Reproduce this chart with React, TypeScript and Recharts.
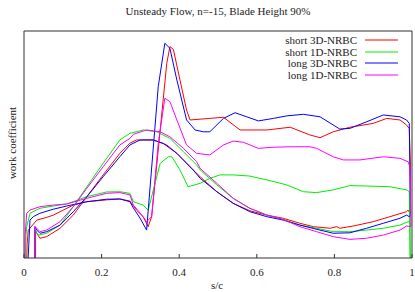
import { LineChart, Line, XAxis, YAxis } from 'recharts'

// s/c positions and work coefficient values, each closed loop traced around the blade
const short3dS = [0.003, 0.008, 0.011, 0.033, 0.0585, 0.0755, 0.101, 0.127, 0.162, 0.213, 0.247, 0.273, 0.29, 0.307, 0.32, 0.329, 0.351, 0.368, 0.376, 0.385, 0.402, 0.419, 0.428, 0.479, 0.514, 0.557, 0.626, 0.686, 0.737, 0.763, 0.797, 0.84, 0.9, 0.935, 0.969, 0.986, 0.993, 0.996, 0.995, 0.99, 0.986, 0.943, 0.9, 0.849, 0.814, 0.806, 0.789, 0.746, 0.711, 0.668, 0.626, 0.582, 0.539, 0.497, 0.454, 0.436, 0.394, 0.368, 0.333, 0.29, 0.273, 0.247, 0.204, 0.162, 0.127, 0.093, 0.0585, 0.041, 0.033, 0.03, 0.029]
const short3dW = [-0.3, 0.06, 0.123, 0.167, 0.179, 0.189, 0.211, 0.233, 0.248, 0.256, 0.26, 0.251, 0.211, 0.182, 0.138, 0.182, 0.564, 0.858, 0.931, 0.919, 0.784, 0.652, 0.608, 0.615, 0.62, 0.564, 0.564, 0.576, 0.542, 0.53, 0.556, 0.576, 0.593, 0.615, 0.608, 0.586, 0.57, 0.4, 0.197, 0.211, 0.204, 0.182, 0.16, 0.141, 0.131, 0.138, 0.131, 0.138, 0.153, 0.175, 0.189, 0.208, 0.241, 0.292, 0.358, 0.388, 0.461, 0.498, 0.52, 0.52, 0.506, 0.461, 0.366, 0.27, 0.189, 0.131, 0.094, 0.087, 0.109, 0.12, -0.3]

const short1dS = [0.002, 0.005, 0.007, 0.0155, 0.041, 0.0755, 0.11, 0.162, 0.213, 0.247, 0.273, 0.282, 0.307, 0.32, 0.351, 0.372, 0.381, 0.402, 0.423, 0.454, 0.479, 0.505, 0.539, 0.582, 0.626, 0.677, 0.72, 0.754, 0.797, 0.84, 0.883, 0.943, 0.986, 0.993, 0.997, 0.995, 0.99, 0.969, 0.926, 0.883, 0.84, 0.797, 0.754, 0.711, 0.668, 0.626, 0.582, 0.539, 0.497, 0.454, 0.445, 0.411, 0.376, 0.342, 0.307, 0.273, 0.247, 0.204, 0.162, 0.127, 0.093, 0.0585, 0.037, 0.028, 0.027]
const short1dW = [-0.3, 0.1, 0.138, 0.197, 0.219, 0.229, 0.238, 0.27, 0.291, 0.292, 0.285, 0.248, 0.233, 0.211, 0.417, 0.446, 0.446, 0.388, 0.314, 0.329, 0.351, 0.366, 0.366, 0.361, 0.344, 0.322, 0.292, 0.288, 0.3, 0.319, 0.317, 0.314, 0.3, 0.292, -0.3, 0.16, 0.16, 0.145, 0.131, 0.123, 0.116, 0.116, 0.131, 0.145, 0.17, 0.189, 0.219, 0.263, 0.322, 0.388, 0.41, 0.468, 0.527, 0.556, 0.564, 0.549, 0.52, 0.417, 0.314, 0.226, 0.145, 0.109, 0.101, 0.123, -0.3]

const long3dS = [0.002, 0.0155, 0.024, 0.041, 0.0755, 0.11, 0.162, 0.213, 0.247, 0.273, 0.282, 0.299, 0.316, 0.346, 0.363, 0.376, 0.394, 0.419, 0.441, 0.462, 0.479, 0.514, 0.544, 0.574, 0.604, 0.643, 0.677, 0.72, 0.763, 0.814, 0.84, 0.883, 0.926, 0.969, 0.986, 0.993, 0.996, 0.993, 0.986, 0.969, 0.926, 0.883, 0.84, 0.797, 0.763, 0.711, 0.668, 0.626, 0.582, 0.539, 0.497, 0.454, 0.436, 0.394, 0.359, 0.333, 0.299, 0.273, 0.247, 0.204, 0.162, 0.127, 0.093, 0.0585, 0.041, 0.033, 0.028, 0.027]
const long3dW = [-0.3, 0.167, 0.182, 0.197, 0.215, 0.229, 0.248, 0.259, 0.26, 0.248, 0.22, 0.176, 0.123, 0.755, 0.946, 0.924, 0.784, 0.608, 0.564, 0.556, 0.556, 0.615, 0.64, 0.622, 0.604, 0.615, 0.626, 0.633, 0.622, 0.568, 0.571, 0.6, 0.63, 0.622, 0.608, 0.593, 0.19, 0.182, 0.189, 0.175, 0.153, 0.131, 0.111, 0.109, 0.123, 0.145, 0.167, 0.182, 0.204, 0.241, 0.292, 0.351, 0.388, 0.461, 0.505, 0.52, 0.52, 0.498, 0.446, 0.358, 0.27, 0.204, 0.145, 0.116, 0.109, 0.123, 0.138, -0.3]

const long1dS = [0.001, 0.003, 0.007, 0.0155, 0.041, 0.0755, 0.11, 0.162, 0.213, 0.247, 0.273, 0.282, 0.307, 0.316, 0.329, 0.346, 0.363, 0.376, 0.394, 0.419, 0.445, 0.479, 0.514, 0.539, 0.565, 0.604, 0.643, 0.686, 0.737, 0.754, 0.797, 0.823, 0.866, 0.926, 0.969, 0.99, 0.995, 0.997, 0.995, 0.986, 0.969, 0.926, 0.883, 0.84, 0.797, 0.754, 0.711, 0.668, 0.626, 0.582, 0.539, 0.497, 0.454, 0.445, 0.411, 0.376, 0.351, 0.316, 0.282, 0.273, 0.247, 0.204, 0.162, 0.127, 0.093, 0.0585, 0.041, 0.033, 0.028, 0.027]
const long1dW = [-0.3, 0.1, 0.197, 0.211, 0.226, 0.233, 0.238, 0.263, 0.285, 0.288, 0.278, 0.233, 0.182, 0.16, 0.182, 0.505, 0.704, 0.689, 0.608, 0.498, 0.461, 0.454, 0.498, 0.515, 0.51, 0.483, 0.488, 0.49, 0.49, 0.483, 0.446, 0.432, 0.432, 0.446, 0.439, 0.424, 0.4, 0.14, 0.138, 0.141, 0.123, 0.101, 0.087, 0.082, 0.094, 0.116, 0.138, 0.17, 0.189, 0.219, 0.263, 0.329, 0.395, 0.424, 0.483, 0.534, 0.556, 0.564, 0.545, 0.527, 0.498, 0.402, 0.307, 0.226, 0.16, 0.123, 0.116, 0.131, 0.138, -0.3]

const xTicks = [0, 0.2, 0.4, 0.6, 0.8, 1]

const zip = (s: number[], w: number[]) => s.map((v, i) => ({ s: v, w: w[i] }))

const series = [
  { name: 'short 3D-NRBC', color: '#ff0000', data: zip(short3dS, short3dW) },
  { name: 'short 1D-NRBC', color: '#00ee00', data: zip(short1dS, short1dW) },
  { name: 'long 3D-NRBC', color: '#0000ff', data: zip(long3dS, long3dW) },
  { name: 'long 1D-NRBC', color: '#ff00ff', data: zip(long1dS, long1dW) },
]

const font = '"Liberation Serif", "Times New Roman", serif'
const ink = '#222'

export default function App() {
  return (
    <div style={{ position: 'absolute', left: 0, top: 0, width: 415, height: 292, fontFamily: font, color: ink, background: '#fff' }}>
      <LineChart width={415} height={292} margin={{ top: 21, right: 0, bottom: 4, left: 14 }}>
        <XAxis
          xAxisId="b"
          type="number"
          dataKey="s"
          domain={[0, 1]}
          ticks={xTicks}
          interval={0}
          allowDataOverflow
          height={30}
          tickSize={-4}
          tickMargin={14}
          stroke="#333"
          tick={{ fontSize: 11, fill: ink, fontFamily: font }}
        />
        <XAxis
          xAxisId="t"
          orientation="top"
          type="number"
          dataKey="s"
          domain={[0, 1]}
          ticks={xTicks}
          interval={0}
          height={10}
          tickSize={-4}
          tick={false}
          stroke="#333"
        />
        <YAxis yAxisId="l" type="number" domain={[0, 1]} allowDataOverflow width={10} tick={false} tickLine={false} stroke="#333" />
        <YAxis yAxisId="r" orientation="right" type="number" domain={[0, 1]} width={3} tick={false} tickLine={false} stroke="#333" />
        {series.map((sr) => (
          <Line
            key={sr.name}
            xAxisId="b"
            yAxisId="l"
            data={sr.data}
            dataKey="w"
            type="linear"
            stroke={sr.color}
            strokeWidth={1}
            dot={false}
            activeDot={false}
            isAnimationActive={false}
          />
        ))}
      </LineChart>

      <div style={{ position: 'absolute', left: 24, width: 388, top: 5, textAlign: 'center', fontSize: 11 }}>
        Unsteady Flow, n=-15, Blade Height 90%
      </div>

      <div
        style={{
          position: 'absolute',
          left: 12,
          top: 143,
          fontSize: 11,
          whiteSpace: 'nowrap',
          transform: 'translate(-50%, -50%) rotate(-90deg)',
        }}
      >
        work coefficient
      </div>

      <div style={{ position: 'absolute', left: 217, top: 285, fontSize: 11, lineHeight: '12px', transform: 'translate(-50%, -50%)' }}>s/c</div>

      <div style={{ position: 'absolute', top: 34, left: 250, width: 148 }}>
        {series.map((sr) => (
          <div key={sr.name} style={{ display: 'flex', alignItems: 'center', height: 11.7, fontSize: 11 }}>
            <span style={{ width: 107, textAlign: 'right', whiteSpace: 'nowrap' }}>{sr.name}</span>
            <svg width={33} height={4} style={{ marginLeft: 8, display: 'block' }}>
              <line x1={0} y1={2} x2={33} y2={2} stroke={sr.color} strokeWidth={1.2} />
            </svg>
          </div>
        ))}
      </div>
    </div>
  )
}
